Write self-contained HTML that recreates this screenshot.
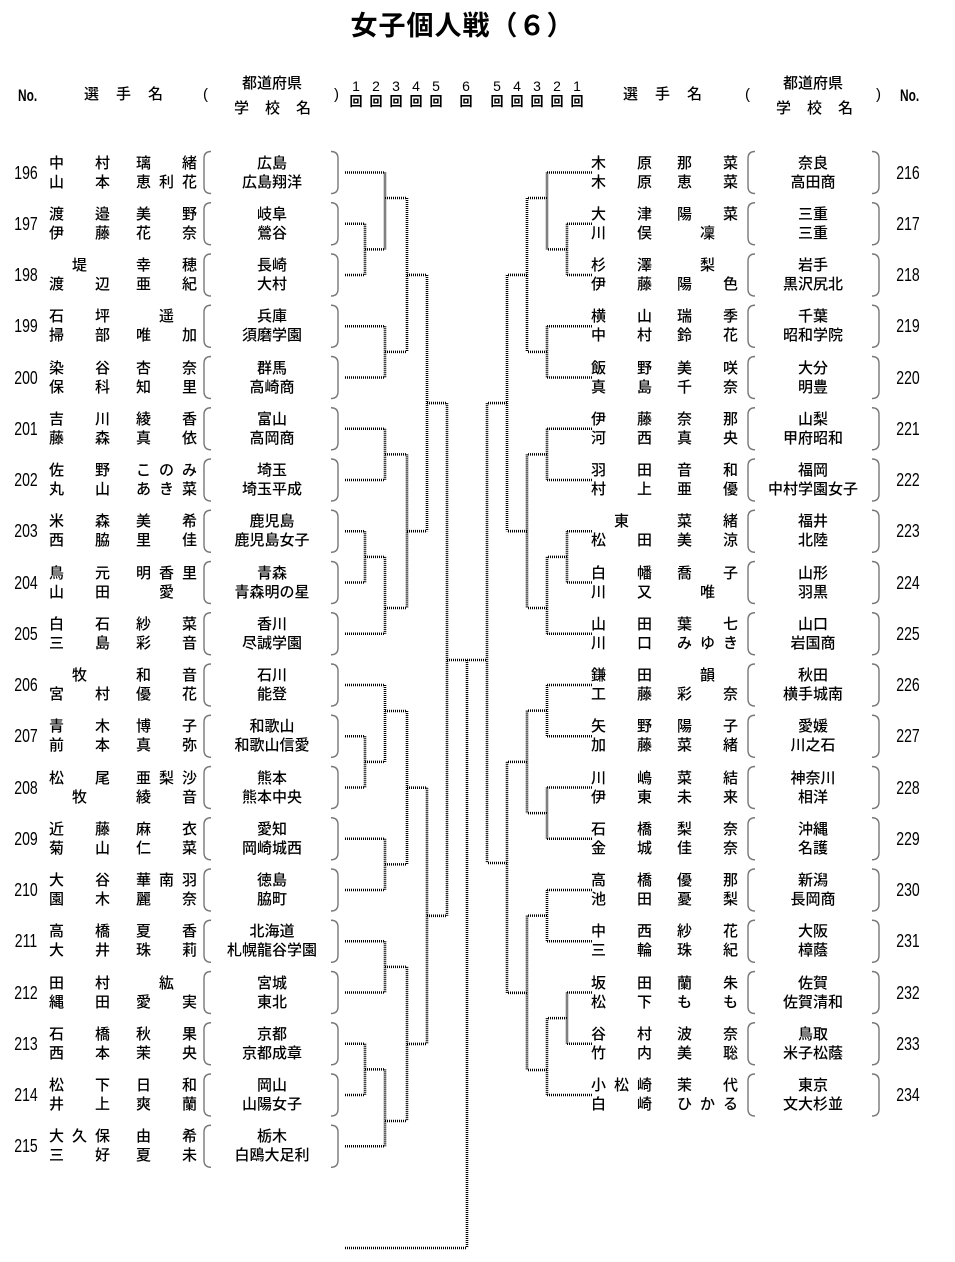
<!DOCTYPE html>
<html><head><meta charset="utf-8">
<style>
body{margin:0;background:#fff;}
#pg{position:relative;width:955px;height:1262px;overflow:hidden;font-family:"Liberation Sans","Noto Sans CJK JP",sans-serif;color:#000;}
.t{position:absolute;white-space:nowrap;line-height:1;}
.h{position:absolute;display:flex;font-size:15px;line-height:1;height:16px;font-weight:500;}
.num{position:absolute;font-size:18px;width:40px;text-align:center;transform:scaleX(0.78);line-height:1;}
.sc{position:absolute;font-size:15px;width:140px;text-align:center;line-height:1;font-weight:500;}
svg{position:absolute;left:0;top:0;}
</style></head><body><div id="pg">
<div class="t" style="left:0;width:925px;text-align:center;top:13px;font-size:27px;letter-spacing:1px;font-weight:bold;">女子個人戦（６）</div>
<div class="t" style="left:18px;top:87px;font-size:17px;transform:scaleX(0.7);transform-origin:left;font-weight:bold;">No.</div>
<div class="t" style="left:84px;top:87px;font-size:15px;letter-spacing:17px;font-weight:500;">選手名</div>
<div class="t" style="left:203px;top:87px;font-size:15px;">(</div>
<div class="t" style="left:242px;top:76px;font-size:15px;font-weight:500;">都道府県</div>
<div class="t" style="left:234px;top:101px;font-size:15px;letter-spacing:16px;font-weight:500;">学校名</div>
<div class="t" style="left:334px;top:87px;font-size:15px;">)</div>
<div class="t" style="left:623px;top:87px;font-size:15px;letter-spacing:17px;font-weight:500;">選手名</div>
<div class="t" style="left:745px;top:87px;font-size:15px;">(</div>
<div class="t" style="left:783px;top:76px;font-size:15px;font-weight:500;">都道府県</div>
<div class="t" style="left:776px;top:101px;font-size:15px;letter-spacing:16px;font-weight:500;">学校名</div>
<div class="t" style="left:876px;top:87px;font-size:15px;">)</div>
<div class="t" style="left:900px;top:87px;font-size:17px;transform:scaleX(0.7);transform-origin:left;font-weight:bold;">No.</div>
<div id="c"></div>
<svg id="s" width="955" height="1262"></svg>
</div>
<script>
var pg=document.getElementById('c'),S=document.getElementById('s'),h='',sv='';
var rn=[[356,'1'],[376,'2'],[396,'3'],[416,'4'],[436,'5'],[466,'6'],[497,'5'],[517,'4'],[537,'3'],[557,'2'],[577,'1']];
rn.forEach(function(r){h+='<div class="t" style="left:'+(r[0]-8)+'px;width:16px;text-align:center;top:79px;font-size:14px;">'+r[1]+'</div><div class="t" style="left:'+(r[0]-8)+'px;width:16px;text-align:center;top:95px;font-size:13px;font-weight:bold;">回</div>';});
var L=[
["中村","璃緒","山本","恵利花","広島","広島翔洋"],
["渡邉","美野","伊藤","花奈","岐阜","鶯谷"],
["堤","幸穂","渡辺","亜紀","長崎","大村"],
["石坪","遥","掃部","唯加","兵庫","須磨学園"],
["染谷","杏奈","保科","知里","群馬","高崎商"],
["吉川","綾香","藤森","真依","富山","高岡商"],
["佐野","このみ","丸山","あき菜","埼玉","埼玉平成"],
["米森","美希","西脇","里佳","鹿児島","鹿児島女子"],
["鳥元","明香里","山田","愛","青森","青森明の星"],
["白石","紗菜","三島","彩音","香川","尽誠学園"],
["牧","和音","宮村","優花","石川","能登"],
["青木","博子","前本","真弥","和歌山","和歌山信愛"],
["松尾","亜梨沙","牧","綾音","熊本","熊本中央"],
["近藤","麻衣","菊山","仁菜","愛知","岡崎城西"],
["大谷","華南羽","園木","麗奈","徳島","脇町"],
["高橋","夏香","大井","珠莉","北海道","札幌龍谷学園"],
["田村","紘","縄田","愛実","宮城","東北"],
["石橋","秋果","西本","茉央","京都","京都成章"],
["松下","日和","井上","爽蘭","岡山","山陽女子"],
["大久保","由希","三好","夏未","栃木","白鴎大足利"]];
var R=[
["木原","那菜","木原","恵菜","奈良","高田商"],
["大津","陽菜","川俣","凜","三重","三重"],
["杉澤","梨","伊藤","陽色","岩手","黒沢尻北"],
["横山","瑞季","中村","鈴花","千葉","昭和学院"],
["飯野","美咲","真島","千奈","大分","明豊"],
["伊藤","奈那","河西","真央","山梨","甲府昭和"],
["羽田","音和","村上","亜優","福岡","中村学園女子"],
["東","菜緒","松田","美涼","福井","北陸"],
["白幡","喬子","川又","唯","山形","羽黒"],
["山田","葉七","川口","みゆき","山口","岩国商"],
["鎌田","韻","工藤","彩奈","秋田","横手城南"],
["矢野","陽子","加藤","菜緒","愛媛","川之石"],
["川嶋","菜結","伊東","未来","神奈川","相洋"],
["石橋","梨奈","金城","佳奈","沖縄","名護"],
["高橋","優那","池田","憂梨","新潟","長岡商"],
["中西","紗花","三輪","珠紀","大阪","樟蔭"],
["坂田","蘭朱","松下","もも","佐賀","佐賀清和"],
["谷村","波奈","竹内","美聡","鳥取","米子松蔭"],
["小松崎","茉代","白崎","ひかる","東京","文大杉並"]];
function half(s,x,y){var j=s.length==1?'center':'space-between';var c='';for(var k=0;k<s.length;k++)c+='<span>'+s[k]+'</span>';return '<div class="h" style="left:'+x+'px;top:'+y+'px;width:61px;justify-content:'+j+';">'+c+'</div>';}
function br(x1,x2,yc){var a=yc-21,b=yc+21;return '<path d="M'+x2+' '+a+' Q'+x1+' '+a+' '+x1+' '+(a+7)+' L'+x1+' '+(b-7)+' Q'+x1+' '+b+' '+x2+' '+b+'" fill="none" stroke="#777" stroke-width="1.4"/>';}
function yy(i){return 172.5+51.25*i;}
L.forEach(function(d,i){var y=yy(i);
h+='<div class="num" style="left:6px;top:'+(y-9)+'px;">'+(196+i)+'</div>';
h+=half(d[0],49,y-17)+half(d[1],136,y-17)+half(d[2],49,y+2)+half(d[3],136,y+2);
h+='<div class="sc" style="left:202px;top:'+(y-17)+'px;">'+d[4]+'</div><div class="sc" style="left:202px;top:'+(y+2)+'px;">'+d[5]+'</div>';
sv+=br(204,211,y)+br(338,331,y);});
R.forEach(function(d,i){var y=yy(i);
h+='<div class="num" style="left:888px;top:'+(y-9)+'px;">'+(216+i)+'</div>';
h+=half(d[0],591,y-17)+half(d[1],677,y-17)+half(d[2],591,y+2)+half(d[3],677,y+2);
h+='<div class="sc" style="left:743px;top:'+(y-17)+'px;">'+d[4]+'</div><div class="sc" style="left:743px;top:'+(y+2)+'px;">'+d[5]+'</div>';
sv+=br(748,755,y)+br(879,872,y);});
pg.innerHTML=h;
var ln='';
function seg(x1,y1,x2,y2){ln+='<line x1="'+x1+'" y1="'+y1+'" x2="'+x2+'" y2="'+y2+'"/>';}
function m(a,b,x,o){seg(a.x,a.y,x,a.y);seg(b.x,b.y,x,b.y);seg(x,a.y,x,b.y);return {x:x,y:(o===undefined?(a.y+b.y)/2:o)};}
function l(i){return {x:345,y:yy(i)};}
function r(i){return {x:592,y:yy(i)};}
var A=m(m(l(0),m(l(1),l(2),365),385,198),m(l(3),l(4),385),407);
var B=m(m(l(5),l(6),385),m(m(l(7),l(8),365),l(9),385,608),407);
var LT=m(A,B,427);
var C=m(m(l(10),m(l(11),l(12),365),385,711),m(l(13),l(14),385),407);
var D=m(m(l(15),l(16),385),m(m(l(17),l(18),365),l(19),385,1121),407);
var LB=m(C,D,427);
var LF=m(LT,LB,447,660);
var E=m(m(r(0),m(r(1),r(2),567),547,198),m(r(3),r(4),547),527);
var F=m(m(r(5),r(6),547),m(m(r(7),r(8),567),r(9),547,608),527);
var RT=m(E,F,507);
var G=m(m(r(10),r(11),547),m(r(12),r(13),547),527);
var H=m(m(r(14),r(15),547),m(m(r(16),r(17),567),r(18),547,1070),527);
var RB=m(G,H,507,863);
var RF=m(RT,RB,487,660);
seg(447,660,487,660);seg(467,660,467,1248);seg(345,1248,467,1248);
S.innerHTML=sv+'<g stroke="#000" stroke-width="2.6" stroke-dasharray="1 1" fill="none">'+ln+'</g>';
</script>
</body></html>
